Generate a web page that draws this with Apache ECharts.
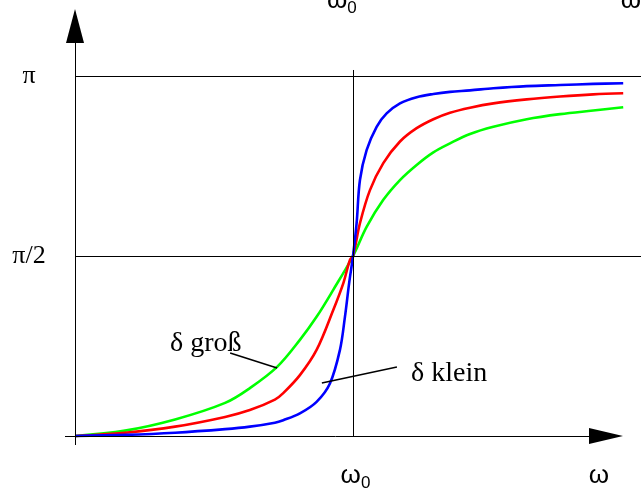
<!DOCTYPE html>
<html>
<head>
<meta charset="utf-8">
<script src="https://cdn.jsdelivr.net/npm/echarts@6/dist/echarts.min.js"></script>
<style>html,body{margin:0;padding:0;background:#fff}#c{width:641px;height:488px}</style>
</head>
<body>
<div id="c"></div>
<script>
// x: omega / omega0 ; y: phase / pi
const deltaLarge = [[0,0],[0.18,0.015],[0.36,0.046],[0.54,0.092],[0.629,0.133],[0.727,0.192],[0.809,0.267],[0.869,0.331],[0.929,0.406],[1.0,0.5],[1.049,0.581],[1.109,0.656],[1.169,0.711],[1.229,0.753],[1.289,0.788],[1.349,0.813],[1.421,0.839],[1.505,0.859],[1.625,0.880],[1.745,0.894],[1.864,0.904],[1.972,0.913]];
const deltaMid = [[0,0],[0.18,0.009],[0.36,0.026],[0.54,0.053],[0.629,0.072],[0.719,0.101],[0.749,0.119],[0.809,0.169],[0.869,0.239],[0.929,0.350],[0.965,0.424],[0.989,0.489],[1.0,0.5],[1.025,0.591],[1.061,0.683],[1.109,0.758],[1.169,0.818],[1.229,0.855],[1.289,0.880],[1.349,0.898],[1.421,0.912],[1.505,0.924],[1.625,0.935],[1.745,0.943],[1.864,0.949],[1.972,0.952]];
const deltaSmall = [[0,0],[0.18,0.003],[0.36,0.009],[0.54,0.019],[0.629,0.026],[0.719,0.037],[0.749,0.044],[0.809,0.063],[0.869,0.095],[0.917,0.146],[0.953,0.239],[0.971,0.331],[0.986,0.424],[1.0,0.5],[1.013,0.591],[1.025,0.711],[1.049,0.794],[1.085,0.859],[1.121,0.896],[1.169,0.924],[1.229,0.941],[1.289,0.950],[1.349,0.956],[1.421,0.960],[1.505,0.966],[1.625,0.972],[1.745,0.975],[1.864,0.978],[1.972,0.980]];
const yTickValues = [0.5, 1];
const yTickLabels = ['π/2', 'π'];
const xBottomLabelValues = [1.009, 1.885];
const xTopLabelValues = [0.96, 2.0];
const curveNames = ['δ groß', 'δ mittel', 'δ klein'];

const X_MIN = -0.036, X_MAX = 2.036, Y_MIN = -0.025, Y_MAX = 1.2111;

const omegaRich = {
  a: {fontFamily: 'Liberation Sans', fontSize: 26, lineHeight: 26, verticalAlign: 'top', color: '#000'},
  b: {fontFamily: 'Liberation Sans', fontSize: 17, lineHeight: 17, padding: [12, 0, 0, 0], verticalAlign: 'top', color: '#000'},
  c: {fontFamily: 'Liberation Sans', fontSize: 26, lineHeight: 26, padding: [0, 0, 3, 0], verticalAlign: 'top', color: '#000'}
};
function omegaFmt(v) { return v < 1.5 ? '{a|ω}{b|0}' : '{c|ω}'; }

const blackLine = {color: '#000', width: 1, type: 'solid'};
function seg(a, b, endSymbol, size) {
  return [{coord: a, symbol: 'none'}, {coord: b, symbol: endSymbol || 'none', symbolSize: size || 0}];
}

const chart = echarts.init(document.getElementById('c'), null, {renderer: 'canvas'});
chart.setOption({
  animation: false,
  backgroundColor: '#fff',
  grid: {left: 65, right: 0, top: 0, bottom: 43, containLabel: false, outerBoundsMode: 'none'},
  xAxis: [{
    type: 'value', min: X_MIN, max: X_MAX,
    axisLine: {show: false}, axisTick: {show: false}, splitLine: {show: false},
    axisLabel: {customValues: xBottomLabelValues, formatter: omegaFmt, rich: omegaRich, margin: 18}
  }, {
    type: 'value', position: 'top', min: X_MIN, max: X_MAX,
    axisLine: {show: false}, axisTick: {show: false}, splitLine: {show: false},
    axisLabel: {customValues: xTopLabelValues, formatter: omegaFmt, rich: omegaRich, margin: -14}
  }],
  yAxis: {
    type: 'value', min: Y_MIN, max: Y_MAX,
    axisLine: {show: false}, axisTick: {show: false}, splitLine: {show: false},
    axisLabel: {
      customValues: yTickValues,
      formatter: v => yTickLabels[yTickValues.indexOf(v)],
      align: 'center', margin: 36,
      fontFamily: 'Liberation Serif', fontSize: 26, color: '#000'
    }
  },
  series: [{
    type: 'line', data: [[0, 0]], symbol: 'none', lineStyle: {width: 0}, z: 1, silent: true,
    markLine: {
      silent: true, symbol: ['none', 'none'], label: {show: false}, lineStyle: blackLine,
      data: [
        seg([X_MIN, 0], [1.91, 0], 'triangle', [16, 34]),
        seg([0, Y_MIN], [0, 1.139], 'triangle', [18, 34]),
        seg([0, 1], [X_MAX, 1]),
        seg([0, 0.5], [X_MAX, 0.5]),
        seg([1, 0], [1, 1.0167])
      ]
    }
  }, {
    name: curveNames[0], type: 'line', data: deltaLarge, showSymbol: false, smooth: 0.35,
    lineStyle: {color: '#00ff00', width: 2.6}, itemStyle: {color: '#00ff00'}, z: 2
  }, {
    name: curveNames[1], type: 'line', data: deltaMid, showSymbol: false, smooth: 0.35,
    lineStyle: {color: '#ff0000', width: 2.6}, itemStyle: {color: '#ff0000'}, z: 3
  }, {
    name: curveNames[2], type: 'line', data: deltaSmall, showSymbol: false, smooth: 0.35,
    lineStyle: {color: '#0000ff', width: 2.6}, itemStyle: {color: '#0000ff'}, z: 4
  }, {
    type: 'line', data: [[0, 0]], symbol: 'none', lineStyle: {width: 0}, z: 5, silent: true,
    markLine: {
      silent: true, symbol: ['none', 'none'], label: {show: false},
      lineStyle: {color: '#000', width: 1.5, type: 'solid'},
      data: [
        seg([0.558, 0.2306], [0.727, 0.1889]),
        seg([1.158, 0.1917], [0.888, 0.1472])
      ]
    },
    markPoint: {
      silent: true, symbol: 'circle', symbolSize: 0,
      label: {show: true, position: 'right', distance: 0, formatter: p => p.name,
        fontFamily: 'Liberation Serif', fontSize: 28, color: '#000'},
      data: [
        {name: curveNames[0], coord: [0.342, 0.2556]},
        {name: curveNames[2], coord: [1.209, 0.1722]}
      ]
    }
  }]
});
</script>
</body>
</html>
